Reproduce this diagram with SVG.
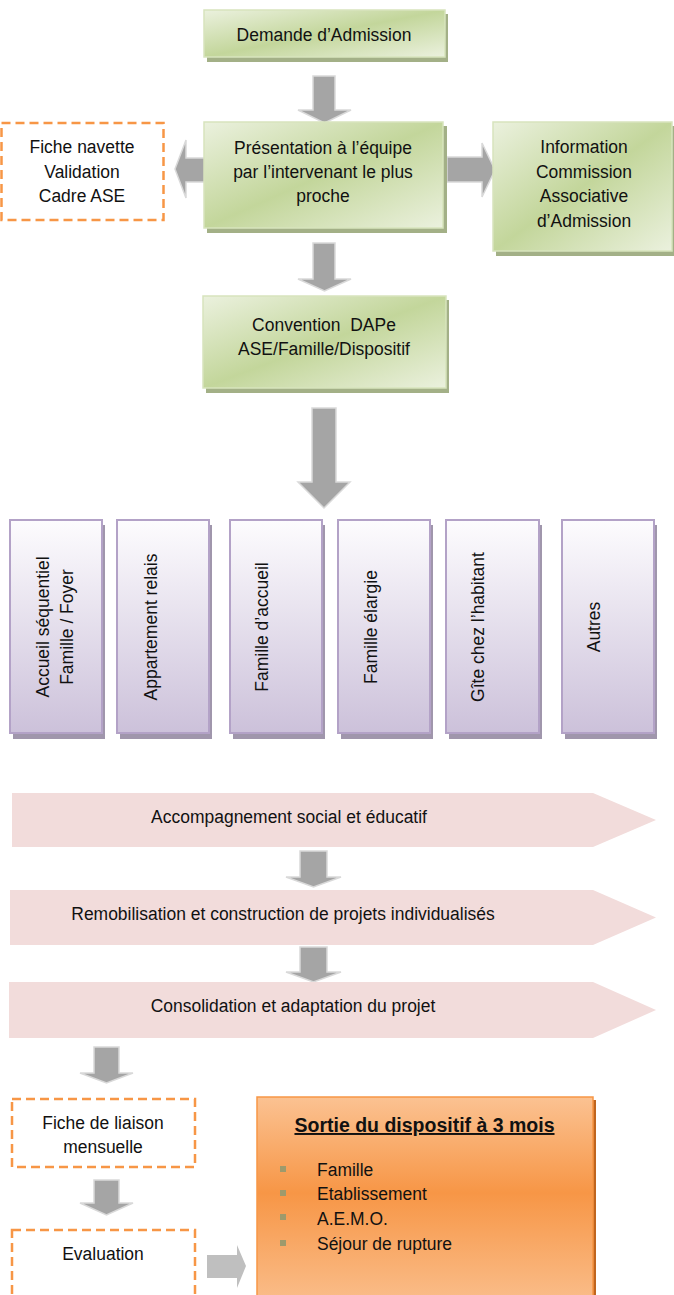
<svg xmlns="http://www.w3.org/2000/svg" width="674" height="1295" viewBox="0 0 674 1295">
<defs>
<linearGradient id="gGreen" x1="0" y1="0" x2="1" y2="1">
<stop offset="0" stop-color="#ebf1de"/>
<stop offset="0.5" stop-color="#c3d69b"/>
<stop offset="1" stop-color="#ebf1de"/>
</linearGradient>
<linearGradient id="gPurple" x1="0" y1="0" x2="0" y2="1">
<stop offset="0" stop-color="#fdfcfe"/>
<stop offset="1" stop-color="#ccc1da"/>
</linearGradient>
<linearGradient id="gOrange" x1="0" y1="0" x2="0" y2="1">
<stop offset="0" stop-color="#fbc292"/>
<stop offset="0.45" stop-color="#f79646"/>
<stop offset="1" stop-color="#fac08f"/>
</linearGradient>
<style>
.t{font-family:"Liberation Sans",Arial,sans-serif;font-size:19px;fill:#111;text-anchor:middle}
.ts{font-family:"Liberation Sans",Arial,sans-serif;font-size:19px;fill:#111}
.v{font-family:"Liberation Sans",Arial,sans-serif;font-size:17.5px;fill:#111;text-anchor:middle}
.gbox{fill:url(#gGreen);stroke:#d7e4bd;stroke-width:1.5}
.gsh{fill:#a3b087}
.pbox{fill:url(#gPurple);stroke:#b3a2c7;stroke-width:2}
.psh{fill:#a096ac}
.dash{fill:#fff;stroke:#f79646;stroke-width:2.5;stroke-dasharray:9 5}
.band{fill:#f2dcdb}
.arr{fill:#a5a5a5;stroke:#d9d9d9;stroke-width:1.5;stroke-linejoin:miter}
.arrl{fill:#bfbfbf}
.bul{fill:#9e9a6c}
</style>
</defs>
<rect width="674" height="1295" fill="#fff"/>

<g id="connectors">
<polygon class="arr" points="313,76 335,76 335,110 351,110 324.5,123 298,110 313,110"/>
<polygon class="arr" points="313,243 335,243 335,279 351,279 324.5,291 298,279 313,279"/>
<polygon class="arr" points="312,408 336,408 336,482 350,482 324,508 298,482 312,482"/>
<polygon class="arr" points="205,158 186,158 186,140 175,169 186,198 186,182 205,182"/>
<polygon class="arr" points="447,157 482,157 482,143 495,170 482,197 482,182 447,182"/>
<polygon class="arr" points="300,851 327,851 327,877 341,877 313.5,887 286,877 300,877"/>
<polygon class="arr" points="300,947 327,947 327,972 341,972 313.5,982 286,972 300,972"/>
<polygon class="arr" points="94,1047 119,1047 119,1073 133,1073 106.5,1083 80,1073 94,1073"/>
<polygon class="arr" points="94,1180 119,1180 119,1203 133,1203 106.5,1215 80,1203 94,1203"/>
<polygon class="arrl" points="207,1255 237,1255 237,1245 246,1266 237,1288 237,1278 207,1278"/>
</g>

<g id="demande">
<rect class="gsh" x="207" y="14" width="241" height="48"/>
<rect class="gbox" x="204" y="10" width="241" height="47"/>
<text class="t" transform="translate(324 0) scale(0.92 1)"><tspan x="0" y="41.5">Demande d’Admission</tspan></text>
</g>

<g id="presentation">
<rect class="gsh" x="207" y="126" width="240" height="107"/>
<rect class="gbox" x="204" y="122" width="239" height="106"/>
<text class="t" transform="translate(323 0) scale(0.92 1)"><tspan x="0" y="154">Présentation à l’équipe</tspan><tspan x="0" y="178">par l’intervenant le plus</tspan><tspan x="0" y="202">proche</tspan></text>
</g>

<g id="fiche-navette">
<rect class="dash" x="1.5" y="123" width="162" height="97"/>
<text class="t" transform="translate(82 0) scale(0.92 1)"><tspan x="0" y="153">Fiche navette</tspan><tspan x="0" y="178">Validation</tspan><tspan x="0" y="202">Cadre ASE</tspan></text>
</g>

<g id="information">
<rect class="gsh" x="496" y="126" width="180" height="130"/>
<rect class="gbox" x="493" y="122" width="179" height="129"/>
<text class="t" transform="translate(584 0) scale(0.92 1)"><tspan x="0" y="153">Information</tspan><tspan x="0" y="178">Commission</tspan><tspan x="0" y="202">Associative</tspan><tspan x="0" y="227">d’Admission</tspan></text>
</g>

<g id="convention">
<rect class="gsh" x="206" y="300" width="243" height="93"/>
<rect class="gbox" x="203" y="296" width="243" height="92"/>
<text class="t" transform="translate(324 0) scale(0.92 1)" xml:space="preserve"><tspan x="0" y="331">Convention  DAPe</tspan><tspan x="0" y="355">ASE/Famille/Dispositif</tspan></text>
</g>

<g id="accueil-sequentiel">
<rect class="psh" x="13" y="525" width="92" height="214"/>
<rect class="pbox" x="10" y="520" width="92" height="213"/>
<text class="v" transform="translate(49 627) rotate(-90)"><tspan x="0" y="0">Accueil séquentiel</tspan><tspan x="0" y="23.5">Famille / Foyer</tspan></text>
</g>
<g id="appartement-relais">
<rect class="psh" x="120" y="525" width="92" height="214"/>
<rect class="pbox" x="117" y="520" width="92" height="213"/>
<text class="v" transform="translate(156.5 627) rotate(-90)">Appartement relais</text>
</g>
<g id="famille-accueil">
<rect class="psh" x="233" y="525" width="92" height="214"/>
<rect class="pbox" x="230" y="520" width="92" height="213"/>
<text class="v" transform="translate(267.5 627) rotate(-90)">Famille d’accueil</text>
</g>
<g id="famille-elargie">
<rect class="psh" x="341" y="525" width="92" height="214"/>
<rect class="pbox" x="338" y="520" width="92" height="213"/>
<text class="v" transform="translate(376.5 627) rotate(-90)">Famille élargie</text>
</g>
<g id="gite">
<rect class="psh" x="449" y="525" width="93" height="214"/>
<rect class="pbox" x="446" y="520" width="93" height="213"/>
<text class="v" transform="translate(484 627) rotate(-90)">Gîte chez l’habitant</text>
</g>
<g id="autres">
<rect class="psh" x="565" y="525" width="92" height="214"/>
<rect class="pbox" x="562" y="520" width="92" height="213"/>
<text class="v" transform="translate(600 627) rotate(-90)">Autres</text>
</g>

<g id="accompagnement">
<polygon class="band" points="12,793 593,793 656,820 593,847 12,847"/>
<text class="t" transform="translate(289 0) scale(0.92 1)"><tspan x="0" y="823">Accompagnement social et éducatif</tspan></text>
</g>
<g id="remobilisation">
<polygon class="band" points="10,890 593,890 656,917.5 593,945 10,945"/>
<text class="t" transform="translate(283 0) scale(0.92 1)"><tspan x="0" y="920">Remobilisation et construction de projets individualisés</tspan></text>
</g>
<g id="consolidation">
<polygon class="band" points="9,982 593,982 656,1010 593,1038 9,1038"/>
<text class="t" transform="translate(293 0) scale(0.92 1)"><tspan x="0" y="1012.5">Consolidation et adaptation du projet</tspan></text>
</g>

<g id="fiche-liaison">
<rect class="dash" x="12" y="1099" width="183" height="68"/>
<text class="t" transform="translate(103 0) scale(0.92 1)"><tspan x="0" y="1129">Fiche de liaison</tspan><tspan x="0" y="1153">mensuelle</tspan></text>
</g>

<g id="evaluation">
<rect class="dash" x="12" y="1230" width="183" height="80"/>
<text class="t" transform="translate(103 0) scale(0.92 1)"><tspan x="0" y="1260">Evaluation</tspan></text>
</g>

<g id="sortie">
<rect x="259" y="1100" width="337" height="210" fill="#c0651e"/>
<rect x="257" y="1097" width="336" height="213" fill="url(#gOrange)" stroke="#f79646" stroke-width="1.5"/>
<text x="424.5" y="1132" font-family="Liberation Sans, Arial, sans-serif" font-size="19.5" font-weight="bold" text-anchor="middle" text-decoration="underline" fill="#111">Sortie du dispositif à 3 mois</text>
<rect class="bul" x="280" y="1166" width="6" height="6"/>
<rect class="bul" x="280" y="1190" width="6" height="6"/>
<rect class="bul" x="280" y="1214" width="6" height="6"/>
<rect class="bul" x="280" y="1240" width="6" height="6"/>
<text class="ts" transform="translate(317 0) scale(0.92 1)"><tspan x="0" y="1176">Famille</tspan><tspan x="0" y="1200">Etablissement</tspan><tspan x="0" y="1225">A.E.M.O.</tspan><tspan x="0" y="1250">Séjour de rupture</tspan></text>
</g>
</svg>
